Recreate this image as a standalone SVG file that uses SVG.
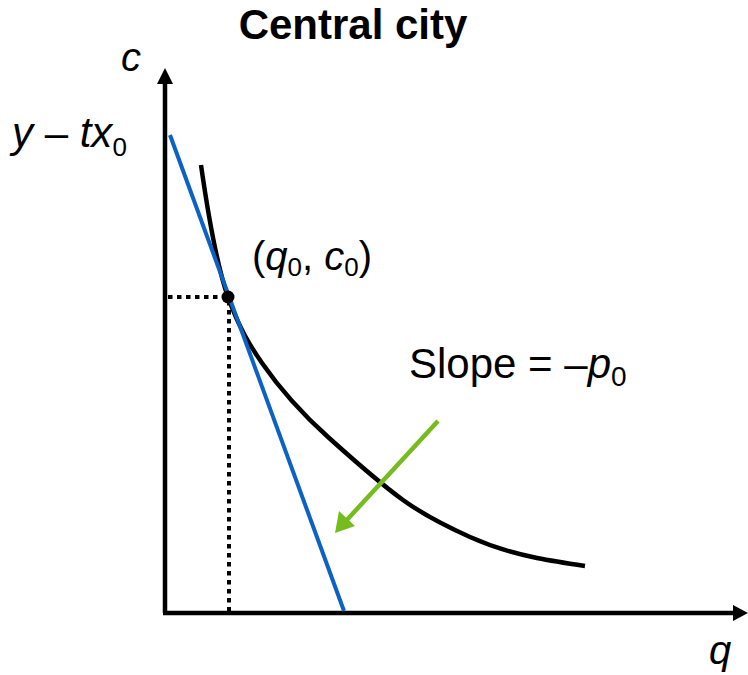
<svg xmlns="http://www.w3.org/2000/svg" width="748" height="675" viewBox="0 0 748 675">
<style>
text{font-family:"Liberation Sans",Arial,sans-serif;fill:#000}
.it{font-style:italic}
.axis{stroke:#000;stroke-width:4.5;fill:none}
.dot{stroke:#000;stroke-width:4;stroke-dasharray:4.5 4.5;fill:none}
</style>
<rect width="748" height="675" fill="#fff"/>
<text x="353" y="39" font-size="42" font-weight="bold" text-anchor="middle">Central city</text>
<g id="axes">
<line class="axis" x1="165" y1="613" x2="165" y2="82"/>
<path d="M165,68 L157,84 L173,84 Z" fill="#000"/>
<line class="axis" x1="163" y1="613" x2="735" y2="613"/>
<path d="M748,613 L733,605 L733,621 Z" fill="#000"/>
</g>
<g id="labels">
<text class="it" x="121" y="71" font-size="40">c</text>
<text class="it" x="709" y="664" font-size="40">q</text>
<text x="12" y="147" font-size="42"><tspan class="it">y</tspan> – <tspan class="it">tx</tspan><tspan font-size="26" dy="9">0</tspan></text>
<text x="252" y="270" font-size="40">(<tspan class="it">q</tspan><tspan font-size="26" dy="6">0</tspan><tspan dy="-6">, </tspan><tspan class="it">c</tspan><tspan font-size="26" dy="6">0</tspan><tspan dy="-6">)</tspan></text>
<text x="409" y="378" font-size="42">Slope = –<tspan class="it">p</tspan><tspan font-size="28" dy="8">0</tspan></text>
</g>
<g id="connectors">
<line class="dot" x1="168" y1="297" x2="225" y2="297"/>
<line class="dot" x1="229" y1="301" x2="229" y2="611"/>
<path id="curve" d="M201,165 C210,228 219,271.8 228,297 C239.3,328.7 250.7,346.6 262,363 C284,394.9 306,417.2 328,437 C353,459.5 378,482 403,500 C425.3,516.1 447.7,527 470,537 C492.3,547 514.7,553.5 537,558 C553,561.2 569,563.6 585,566" fill="none" stroke="#000" stroke-width="4.5"/>
<line id="budget" x1="170" y1="135" x2="344" y2="611" stroke="#0B62C4" stroke-width="4"/>
<line x1="438" y1="421" x2="345" y2="522" stroke="#77BC1F" stroke-width="4.5"/>
<path d="M335,533 L339,511 L355,526 Z" fill="#77BC1F"/>
</g>
<g id="point">
<circle cx="228" cy="297" r="6.5" fill="#000"/>
</g>
</svg>
